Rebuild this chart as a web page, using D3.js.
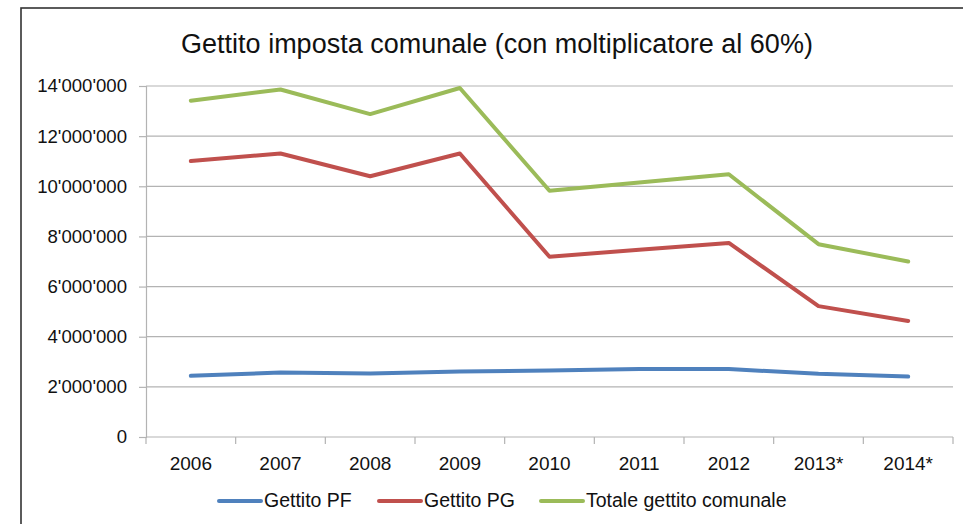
<!DOCTYPE html>
<html lang="it">
<head>
    <meta charset="UTF-8">
    <title>Gettito imposta comunale</title>
    <script src="https://cdnjs.cloudflare.com/ajax/libs/d3/7.8.5/d3.min.js"></script>
    <style>
        body {
            margin: 0;
            overflow: hidden;
            background: #fff;
            font-family: "Liberation Sans", Arial, sans-serif;
        }
    </style>
</head>
<body>
    <script>
        // Data
        const years = ['2006', '2007', '2008', '2009', '2010', '2011', '2012', '2013*', '2014*'];
        const gettitoPF = [2440000, 2570000, 2530000, 2610000, 2650000, 2710000, 2710000, 2520000, 2410000];
        const gettitoPG = [11010000, 11310000, 10400000, 11310000, 7190000, 7470000, 7740000, 5220000, 4630000];
        const totale = [13410000, 13860000, 12880000, 13920000, 9820000, 10150000, 10480000, 7690000, 7000000];
        const yTicks = [0, 2000000, 4000000, 6000000, 8000000, 10000000, 12000000, 14000000];
        const seriesNames = ['Gettito PF', 'Gettito PG', 'Totale gettito comunale'];
        const colors = ['#4f81bd', '#c0504d', '#9bbb59'];

        const width = 963;
        const height = 524;
        const margin = { top: 86, right: 10, bottom: 87, left: 146 };

        const svg = d3.select('body')
            .append('svg')
            .attr('width', width)
            .attr('height', height);

        // outer frame (extends past the right/bottom edges)
        svg.append('rect')
            .attr('x', 21).attr('y', 8)
            .attr('width', 1000).attr('height', 600)
            .attr('fill', 'none')
            .attr('stroke', '#333')
            .attr('stroke-width', 1.6);

        svg.append('text')
            .attr('x', 497).attr('y', 53)
            .attr('text-anchor', 'middle')
            .attr('font-size', 27)
            .attr('fill', '#111')
            .text('Gettito imposta comunale (con moltiplicatore al 60%)');

        const x = d3.scaleBand()
            .domain(years)
            .range([margin.left, width - margin.right]);

        const y = d3.scaleLinear()
            .domain([0, 14000000])
            .range([height - margin.bottom, margin.top]);

        const fmt = v => d3.format(',')(v).replace(/,/g, "'");

        // gridlines
        svg.append('g')
            .selectAll('line')
            .data(yTicks.filter(d => d > 0))
            .join('line')
            .attr('x1', margin.left).attr('x2', width - margin.right)
            .attr('y1', d => y(d)).attr('y2', d => y(d))
            .attr('stroke', '#b3b3b3')
            .attr('stroke-width', 1.2);

        // y axis
        const yAxis = svg.append('g')
            .attr('transform', `translate(${margin.left},0)`)
            .call(d3.axisLeft(y).tickValues(yTicks).tickFormat(fmt).tickSize(7).tickPadding(12));
        yAxis.select('.domain').attr('stroke', '#b3b3b3').attr('stroke-width', 1.2);
        yAxis.selectAll('.tick line').attr('stroke', '#b3b3b3').attr('stroke-width', 1.2);
        yAxis.selectAll('text')
            .attr('font-size', 18.6)
            .attr('font-family', '"Liberation Sans", Arial, sans-serif')
            .attr('fill', '#111');

        // x axis with ticks at category boundaries
        const xg = svg.append('g')
            .attr('transform', `translate(0,${y(0)})`);
        xg.append('line')
            .attr('x1', margin.left).attr('x2', width - margin.right)
            .attr('stroke', '#b3b3b3').attr('stroke-width', 1.2);
        const bounds = years.map(d => x(d)).concat([x(years[years.length - 1]) + x.bandwidth()]);
        xg.selectAll('.tk')
            .data(bounds)
            .join('line')
            .attr('class', 'tk')
            .attr('x1', d => d).attr('x2', d => d)
            .attr('y1', 0).attr('y2', 7)
            .attr('stroke', '#b3b3b3').attr('stroke-width', 1.2);
        xg.selectAll('.lbl')
            .data(years)
            .join('text')
            .attr('class', 'lbl')
            .attr('x', d => x(d) + x.bandwidth() / 2)
            .attr('y', 33)
            .attr('text-anchor', 'middle')
            .attr('font-size', 19)
            .attr('fill', '#111')
            .text(d => d);

        // lines
        const series = [gettitoPF, gettitoPG, totale];
        const line = d3.line()
            .x((d, i) => x(years[i]) + x.bandwidth() / 2)
            .y(d => y(d));

        svg.append('g')
            .selectAll('path')
            .data(series)
            .join('path')
            .attr('d', line)
            .attr('fill', 'none')
            .attr('stroke', (d, i) => colors[i])
            .attr('stroke-width', 4)
            .attr('stroke-linejoin', 'round')
            .attr('stroke-linecap', 'round');

        // legend
        const legendX = [219, 379, 541];
        const legend = svg.append('g');
        const items = legend.selectAll('g')
            .data(seriesNames)
            .join('g')
            .attr('transform', (d, i) => `translate(${legendX[i]},501)`);
        items.append('line')
            .attr('x1', 0).attr('x2', 42)
            .attr('stroke', (d, i) => colors[i])
            .attr('stroke-width', 4)
            .attr('stroke-linecap', 'round');
        items.append('text')
            .attr('x', 45)
            .attr('y', 6)
            .attr('font-size', 19.5)
            .attr('fill', '#111')
            .text(d => d);
    </script>
</body>
</html>
